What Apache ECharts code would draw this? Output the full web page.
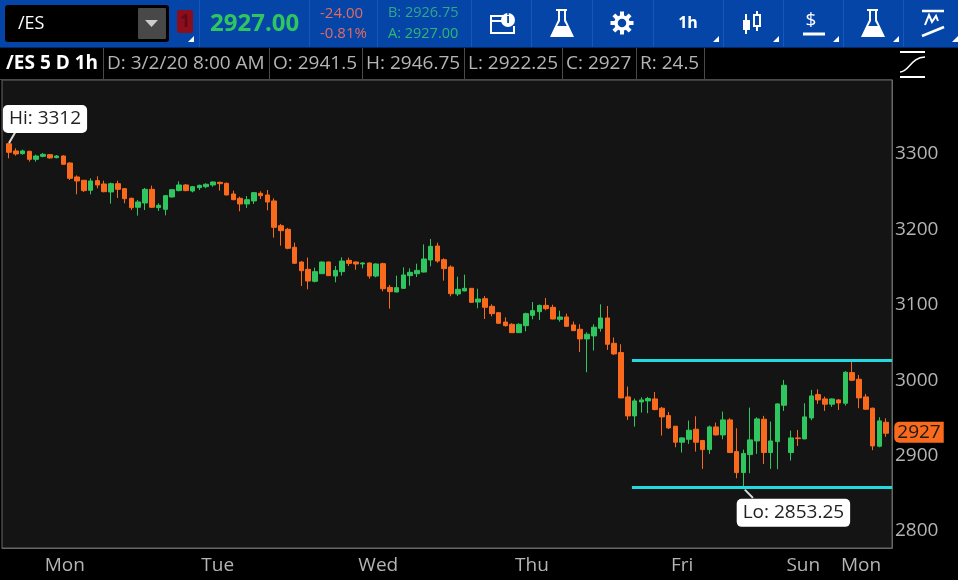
<!DOCTYPE html>
<html>
<head>
<meta charset="utf-8">
<style>
  html, body { margin: 0; padding: 0; background: #000; }
  #main { width: 958px; height: 580px; }
</style>
<script src="https://cdn.jsdelivr.net/npm/echarts@6/dist/echarts.min.js"></script>
</head>
<body>
<div id="main"></div>
<script>
// hourly bars, oldest first
const opens = [
  3311,3301.4,3297.8,3300.9,3290.3,3294.3,3296.5,3292.5,3294.7,3285.4,
  3266.9,3262.5,3249.2,3262,3257.6,3247,3258,3251.4,3238.6,3226.7,
  3232.4,3250.5,3226.2,3224,3240.4,3248.8,3256.3,3248.3,3252.7,3254,
  3256.3,3259.8,3258.5,3244.3,3238.6,3231.1,3235.1,3245.2,3243,3235.1,
  3202.3,3197.5,3173.6,3154.1,3144.4,3128.5,3138.6,3154.1,3135.5,3141.3,
  3156.3,3154.1,3151.5,3152.8,3135.5,3151.9,3120.5,3114.3,3119.2,3136,
  3138.6,3140.8,3156.8,3175.3,3157.2,3147.5,3111.7,3115.7,3119.2,3101,
  3105.5,3095.3,3086.9,3074.5,3071.5,3060.4,3069.7,3083.4,3088.2,3096.6,
  3094,3078.1,3081.2,3070.7,3064.9,3052.1,3056.1,3066.2,3079.9,3046.3,
  3034,2975.2,2950,2968.5,2969.9,2972.5,2960.2,2950.4,2936.3,2915.1,
  2919,2932.3,2917.3,2905.3,2935.4,2924.8,2944.7,2902.7,2874.8,2898.7,
  2916.8,2945.6,2901.4,2915.9,2964.1,2901.4,2920.8,2919.5,2947.3,2978.3,
  2972.5,2965.5,2971.2,2966.8,3007.4,2998.6,2975.2,2960.2,2909.8,2941.5
];
const closes = [
  3299.6,3297.4,3301.4,3290.3,3294.7,3296.9,3292.1,3294.7,3283.7,3265.1,
  3261.6,3248.8,3261.6,3256.3,3247.4,3258,3250.5,3238.1,3226.2,3233.7,
  3250.5,3226.7,3229.3,3242.1,3250,3256.3,3248.8,3254,3255.8,3257.2,
  3260.2,3258,3243,3236.8,3231.1,3236.8,3246.1,3242.1,3233.7,3200.1,
  3195.7,3172.3,3152.4,3142.6,3128.9,3141.3,3154.1,3136,3143,3155.4,
  3152.3,3151.5,3152.8,3135.5,3151.5,3118.7,3114.8,3120.1,3136.9,3140.4,
  3143,3158.1,3174.9,3155.4,3145.3,3112.1,3117.9,3119.2,3100.6,3105,
  3094,3085.6,3072.8,3069.7,3060.4,3071.5,3085.6,3089.6,3096.6,3092.2,
  3078.5,3081.2,3068.8,3063.1,3052.1,3058.3,3067.6,3079.9,3045,3032.2,
  2973.9,2950,2969.9,2971.2,2973,2958.4,2948.7,2934.1,2915.1,2920.8,
  2931,2915.1,2905.3,2935.4,2924.8,2944.7,2901.4,2874.8,2900,2918.2,
  2946,2901.4,2916.8,2965.9,2990.6,2920.8,2919.9,2948.7,2976.5,2971.2,
  2965.5,2972.5,2967.2,3007.9,2997.3,2973.9,2958.8,2910.2,2943.4,2927
];
const highs = [
  3312,3304.9,3303.1,3301.8,3296.5,3298.7,3297.4,3296,3295.6,3286.3,
  3269,3262.9,3265.1,3267.8,3262,3259.4,3262,3252.3,3239.5,3236.4,
  3252.3,3255.4,3232,3243,3250.5,3261.1,3257.6,3255,3256.7,3258.5,
  3261.1,3260.7,3259.4,3248.8,3240.8,3241.7,3247,3247.9,3249.6,3238.6,
  3204.6,3199.3,3179.8,3155,3159.9,3146.6,3154.6,3154.6,3148.8,3160.3,
  3159.9,3155,3153.7,3153.7,3152.3,3153.2,3123.6,3136,3147,3145.7,
  3151.9,3177.5,3184.6,3179.7,3159,3149.7,3134.7,3137.3,3119.6,3118.7,
  3109,3098,3087.4,3080.7,3072.8,3072.8,3086.9,3101,3097.5,3106.4,
  3097.5,3089.6,3085.6,3075.1,3071.5,3060.9,3071.5,3098,3095.8,3053.9,
  3045,2988.9,2973,2974.7,2975.2,2981.8,2961.9,2955.3,2936.7,2921.7,
  2943.8,2949.5,2918.2,2937.2,2941.1,2955.7,2946.9,2933.6,2905.3,2961,
  2948.2,2950,2942.5,2966.8,2997.7,2930.5,2931.4,2966.8,2984.5,2985.3,
  2975.6,2973,2972.1,3009.2,3022,3004.3,2979.2,2961,2948.2,2946.75
];
const lows = [
  3291.6,3295.2,3296.5,3287.2,3287.2,3293,3291.2,3291.6,3283.2,3262.9,
  3243.9,3247,3243.9,3251.9,3246.5,3231.5,3239,3232,3223.1,3215.6,
  3223.1,3225.8,3221.8,3216,3239.5,3247.9,3247.9,3246.5,3249.6,3251.9,
  3254,3248.8,3242.6,3236,3221.4,3225.8,3231.1,3237.7,3222.7,3186.4,
  3175.8,3171,3152,3122.3,3117.9,3127.1,3138.2,3135.5,3127.1,3136,
  3148.8,3143.9,3145.7,3132,3133.8,3115.2,3092.2,3113.9,3118.3,3122.7,
  3134.2,3140.4,3148.4,3153.2,3129.4,3108.6,3109,3115.2,3100.2,3092.7,
  3078.5,3082,3072.3,3068.4,3060,3060,3062.2,3078.1,3077.2,3090,
  3078.1,3075,3067.9,3062.7,3034.8,3007.9,3036.6,3061.8,3037.5,3030.9,
  2973.4,2944.7,2935.8,2954.4,2953.5,2957.5,2923.9,2932.7,2908.4,2901.4,
  2912.9,2902.7,2879.7,2899.6,2923.9,2919,2901,2867.3,2853.25,2874,
  2899.6,2886.3,2879.7,2879.3,2956.6,2890.8,2910.2,2919,2944.2,2965.9,
  2956.6,2961.9,2957.9,2963.7,2996,2960.2,2957.9,2904.5,2908.4,2922.25
];

const dayLabels = ['Mon', 'Tue', 'Wed', 'Thu', 'Fri', 'Sun', 'Mon'];
const dayTicks = [8.2, 30.7, 54.3, 76.9, 99, 116.8, 125.3];
const priceTicks = [2800, 2900, 3000, 3100, 3200, 3300];

// the two cyan levels drawn by hand on the chart
const upperLevel = 3023.5;
const lowerLevel = 2855.5;
const levelStart = 91.6;

const hiBar = 0, hiPrice = 3312;
const loBar = 108, loPrice = 2853.25;
const lastPrice = 2927;

// x axis runs in bar numbers so the first bar sits just off the left edge
const xMin = -1.03;
const xMax = 129.85;

const orange = '#f96a1c';
const green = '#2fc65f';
const FONT = '"Open Sans"';

const bars = opens.map((o, i) => [i, o, closes[i], lows[i], highs[i]]);

// ---- toolbar + info strip helpers
const txt = (x, y, text, fill, size, weight, align) => ({
    type: 'text', silent: true,
    style: { x, y, text, fill, align: align || 'left', verticalAlign: 'middle', font: `${weight || 'normal'} ${size}px ${FONT}` }
});
const box = (x, y, w, h, fill, r) => ({
    type: 'rect', silent: true, shape: { x, y, width: w, height: h, r: r || 0 }, style: { fill }
});
const pline = (points, lw) => ({
    type: 'polyline', silent: true, shape: { points }, style: { fill: 'none', stroke: '#fff', lineWidth: lw || 1 }
});
const seg = (x1, y1, x2, y2, stroke, lw) => ({
    type: 'line', silent: true, shape: { x1, y1, x2, y2 }, style: { stroke, lineWidth: lw || 1 }
});
const poly = (points, fill) => ({ type: 'polygon', silent: true, shape: { points }, style: { fill } });
const corner = (x, y) => poly([[x + 6, y - 6], [x + 6, y], [x, y]], '#fff');
const flask = (x) => [
    seg(x + 5, 10, x + 16, 10, '#fff', 2),
    poly([[x + 7, 11], [x + 9, 11], [x + 9, 21], [x + 1, 35], [x + 21, 35], [x + 13, 21], [x + 13, 11], [x + 15, 11], [x + 15, 20], [x + 23, 37], [x - 1, 37], [x + 7, 20]], '#fff'),
    poly([[x + 5, 26], [x + 17, 26], [x + 22, 36], [x, 36]], '#fff')
];

const gear = () => {
    const out = [];
    for (let a = 0; a < 8; a++) {
        const t = a * Math.PI / 4;
        out.push(seg(622 + 6 * Math.cos(t), 23 + 6 * Math.sin(t), 622 + 11.5 * Math.cos(t), 23 + 11.5 * Math.sin(t), '#fff', 4));
    }
    out.push({ type: 'circle', silent: true, shape: { cx: 622, cy: 23, r: 6 }, style: { fill: 'none', stroke: '#fff', lineWidth: 3.5 } });
    return out;
};

const chrome = [
    box(0, 0, 958, 47, '#0645a8'),
    box(0, 47, 958, 1, '#022a6b'),
    box(0, 48, 958, 31, '#000'),
    box(5, 5, 164, 37, '#000', 3),
    box(138, 8, 28, 31, '#484848', 1),
    poly([[145, 20], [158, 20], [151.5, 27]], '#ccc'),
    txt(18, 24, '/ES', '#fff', 18),
    box(177, 10, 16, 23, '#8c0d1c', 2),
    txt(185, 22, '1', '#5e0a14', 17, 'bold', 'center'),
    corner(188, 42),
    txt(210, 24, '2927.00', '#2fc65f', 24, 'bold'),
    txt(320, 14, '-24.00', '#e26a62', 15),
    txt(320, 34, '-0.81%', '#e26a62', 15),
    txt(388, 13, 'B: 2926.75', '#2fa88a', 14.5),
    txt(388, 34, 'A: 2927.00', '#2fb870', 14.5),
    // info window icon
    pline([[503, 16], [491, 16], [491, 33], [514, 33], [514, 26]], 2),
    seg(491, 21, 503, 21, '#fff', 2),
    { type: 'circle', silent: true, shape: { cx: 508, cy: 20, r: 7 }, style: { fill: '#fff' } },
    txt(508, 20, 'i', '#0645a8', 12, 'bold', 'center'),
    ...flask(551),
    ...gear(),
    txt(688, 23, '1h', '#fff', 16, 'bold', 'center'),
    corner(713, 42),
    // candle icon
    seg(746, 14, 746, 34, '#fff', 2),
    box(743, 20, 7, 10, '#fff'),
    seg(757, 11, 757, 31, '#fff', 2),
    { type: 'rect', silent: true, shape: { x: 754, y: 15, width: 6, height: 11 }, style: { fill: '#0645a8', stroke: '#fff', lineWidth: 2 } },
    corner(773, 42),
    txt(811, 21, '$', '#fff', 19, 'normal', 'center'),
    seg(803, 34, 825, 34, '#fff', 3),
    corner(833, 42),
    ...flask(862),
    corner(893, 42),
    // drawing tools icon
    seg(922, 11, 944, 11, '#fff', 2.5),
    pline([[925, 25], [929, 15], [932, 22], [936, 16], [938, 21]], 2),
    seg(922, 36, 944, 27, '#fff', 2.5),
    corner(952, 42),
    // info strip
    txt(6, 64, '/ES 5 D 1h', '#fff', 19, 'bold'),
    txt(107, 64, 'D: 3/2/20 8:00 AM', '#b4b4b4', 19),
    txt(273, 64, 'O: 2941.5', '#b4b4b4', 19),
    txt(366, 64, 'H: 2946.75', '#b4b4b4', 19),
    txt(468, 64, 'L: 2922.25', '#b4b4b4', 19),
    txt(566, 64, 'C: 2927', '#b4b4b4', 19),
    txt(640, 64, 'R: 24.5', '#b4b4b4', 19),
    // study panel icon
    seg(900, 52, 925, 52, '#fff', 2),
    seg(900, 77, 925, 77, '#fff', 2),
    { type: 'bezierCurve', silent: true, shape: { x1: 900, y1: 72, cpx1: 909, cpy1: 72, cpx2: 911, cpy2: 57, x2: 925, y2: 57 }, style: { fill: 'none', stroke: '#fff', lineWidth: 1.5 } }
];
[199, 309, 377, 471, 531, 592, 653, 723, 783, 843, 903].forEach(x => {
    chrome.push(box(x, 0, 1, 47, '#1557bd'));
});
[103, 269, 362, 464, 562, 636, 704].forEach(x => {
    chrome.push(box(x, 48, 1, 31, '#4a4a4a'));
});
chrome.push(box(0, 79, 892, 1, '#4a4a4a'));

const callout = (coord, text, dx, dy) => ({
    coord: coord,
    symbolSize: 0,
    label: {
        show: true,
        formatter: text,
        position: 'inside',
        offset: [dx, dy],
        color: '#222',
        fontFamily: FONT,
        fontSize: 19,
        backgroundColor: '#fff',
        borderRadius: 5,
        padding: [5, 6, 4, 6]
    }
});

const myChart = echarts.init(document.getElementById('main'));

const option = {
    animation: false,
    backgroundColor: '#000',
    graphic: chrome,
    grid: {
        left: 2, right: 66, top: 80, bottom: 32,
        show: true,
        backgroundColor: '#141414',
        borderColor: '#666',
        borderWidth: 1
    },
    xAxis: {
        type: 'value',
        min: xMin,
        max: xMax,
        splitLine: { show: false },
        axisTick: { show: false },
        axisLine: { show: true, onZero: false, lineStyle: { color: '#666' } },
        axisLabel: {
            customValues: dayTicks,
            formatter: v => dayLabels[dayTicks.indexOf(v)],
            color: '#b4b4b4',
            fontFamily: FONT,
            fontSize: 19,
            margin: 8,
            showMinLabel: true,
            showMaxLabel: true
        }
    },
    yAxis: {
        type: 'value',
        position: 'right',
        min: 2774.8,
        max: 3395.5,
        splitLine: { show: false },
        axisTick: { show: false },
        axisLine: { show: true, onZero: false, lineStyle: { color: '#666' } },
        axisLabel: {
            customValues: priceTicks,
            formatter: v => String(v),
            color: '#b4b4b4',
            fontFamily: FONT,
            fontSize: 19,
            margin: 3,
            verticalAlign: 'top',
            lineHeight: 4
        }
    },
    series: [
        {
            type: 'candlestick',
            data: bars,
            encode: { x: 0, y: [1, 2, 3, 4] },
            barWidth: 5,
            clip: false,
            itemStyle: {
                color: green,
                color0: orange,
                borderColor: green,
                borderColor0: orange,
                borderWidth: 1
            },
            markLine: {
                silent: true,
                symbol: 'none',
                animation: false,
                label: { show: false },
                lineStyle: { width: 3, type: 'solid', color: '#22dadd' },
                data: [
                    [
                        { coord: [levelStart, upperLevel] },
                        { coord: [xMax, upperLevel] }
                    ],
                    [
                        { coord: [levelStart, lowerLevel] },
                        { coord: [xMax, lowerLevel] }
                    ],
                    // little tails on the Hi / Lo callouts
                    [
                        { coord: [hiBar, hiPrice], lineStyle: { color: '#ddd', width: 2, type: 'solid' } },
                        { coord: [hiBar + 0.9, hiPrice + 14], lineStyle: { color: '#ddd', width: 2, type: 'solid' } }
                    ],
                    [
                        { coord: [loBar + 0.2, loPrice - 1], lineStyle: { color: '#ddd', width: 2, type: 'solid' } },
                        { coord: [loBar + 1.4, loPrice - 12], lineStyle: { color: '#ddd', width: 2, type: 'solid' } }
                    ]
                ]
            },
            markPoint: {
                silent: true,
                animation: false,
                data: [
                    callout([hiBar, hiPrice], 'Hi: 3312', 36, -24),
                    callout([loBar, loPrice], 'Lo: 2853.25', 50, 24),
                    {
                        coord: [xMax, lastPrice],
                        symbolSize: 0,
                        label: {
                            show: true,
                            formatter: String(lastPrice),
                            position: 'inside',
                            offset: [27, -1],
                            color: '#1a1a1a',
                            fontFamily: FONT,
                            fontSize: 19,
                            backgroundColor: orange,
                            borderRadius: [5, 0, 0, 5],
                            padding: [1, 3, 1, 3]
                        }
                    }
                ]
            }
        }
    ]
};

myChart.setOption(option);
</script>
</body>
</html>
